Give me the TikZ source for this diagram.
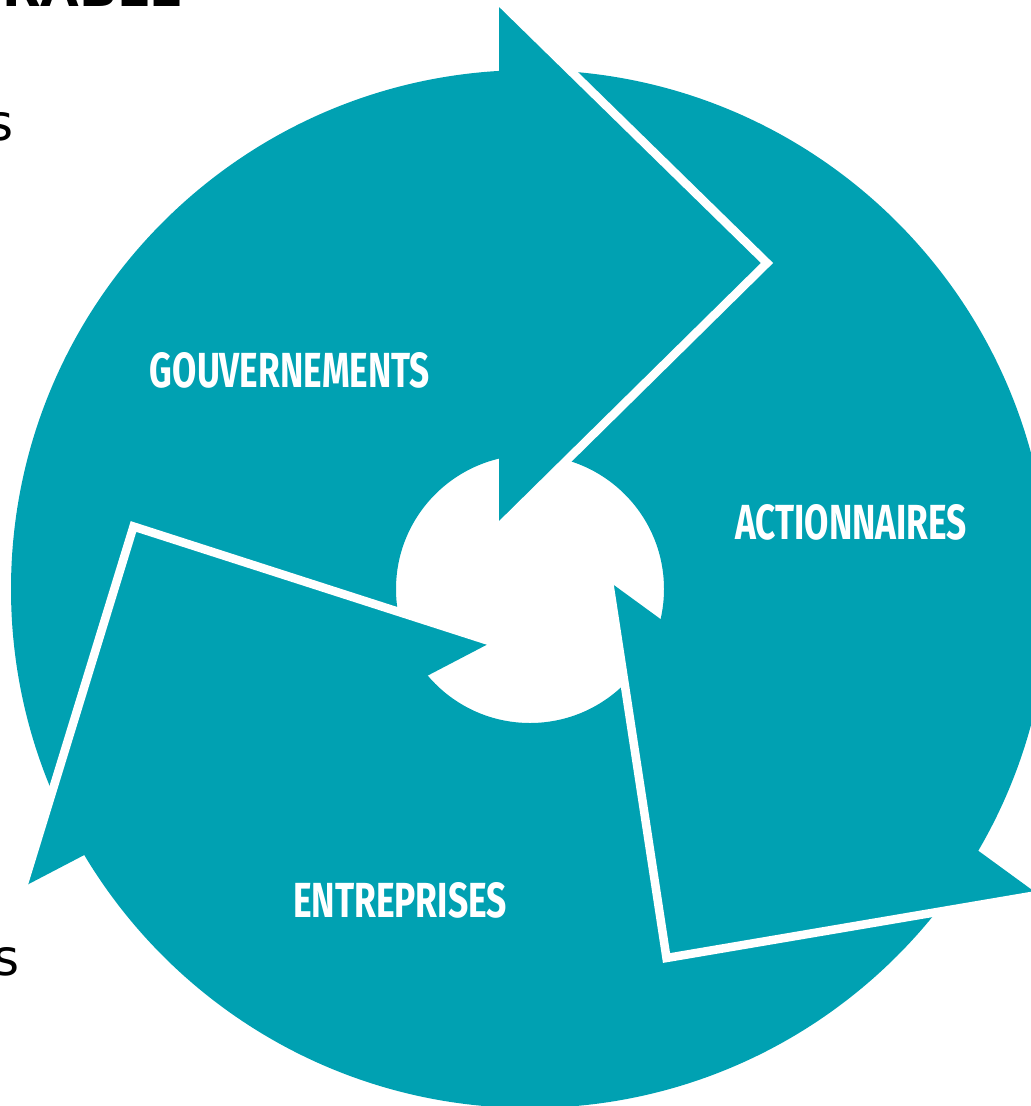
\documentclass[tikz,border=0pt]{standalone}
\usepackage{fontspec}
\setmainfont{Fira Sans}
\newfontfamily\dejavu{DejaVu Sans}
\definecolor{ringteal}{RGB}{0,161,178}
\begin{document}
\begin{tikzpicture}[x=1pt,y=-1pt,
  seam/.style={draw=white,line width=8.5pt,line join=miter,miter limit=20},
  lbl/.style={text=white,inner sep=0pt},
  frag/.style={text=black,inner sep=0pt}]
\useasboundingbox (0,0) rectangle (1031,1106);
% ring
\fill[ringteal,even odd rule] (530,589) circle[radius=519pt] (530,589) circle[radius=134pt];
% arrow heads
\fill[ringteal] (499,1) -- (767,263) -- (499,527) -- cycle;
\fill[ringteal] (609,581.5) -- (666.5,958) -- (1039,895) -- cycle;
\fill[ringteal] (23,887) -- (133.5,526.5) -- (492,642) -- cycle;
% white seams between arrows
\draw[seam] (492,-6) -- (767,263) -- (492,534);
\draw[seam] (607.5,571.6) -- (666.5,958) -- (1049,893);
\draw[seam] (20,896.6) -- (133.5,526.5) -- (501.5,645);
% labels
\node[lbl] (gouv) at (290,370) {\resizebox{280pt}{35pt}{\fontsize{48}{48}\selectfont\bfseries GOUVERNEMENTS}};
\node[lbl] (action) at (851,522) {\resizebox{232pt}{35pt}{\fontsize{48}{48}\selectfont\bfseries ACTIONNAIRES}};
\node[lbl] (entre) at (400,900) {\resizebox{214pt}{35pt}{\fontsize{48}{48}\selectfont\bfseries ENTREPRISES}};
% cut-off text fragments at the left edge
\node[frag,anchor=base east] (title) at (184,6) {\dejavu\bfseries\fontsize{50}{50}\selectfont DURABLE};
\node[frag,anchor=base east] (s1) at (14,140) {\dejavu\fontsize{50}{50}\selectfont s};
\node[frag,anchor=base east] (s2) at (20,975) {\dejavu\fontsize{50}{50}\selectfont s};
\end{tikzpicture}
\end{document}
